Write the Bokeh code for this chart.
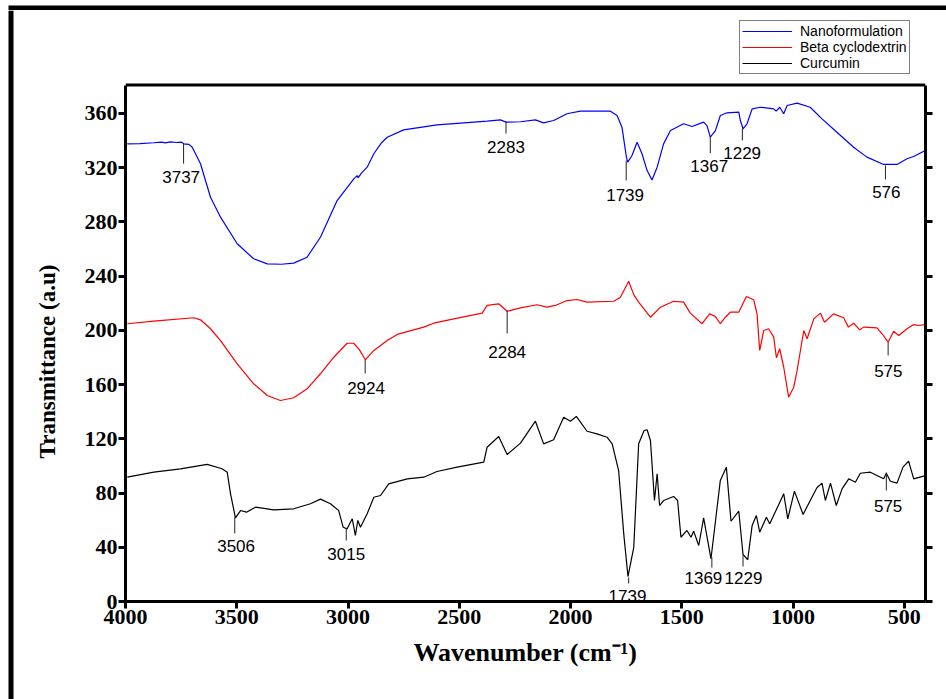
import math
from bokeh.plotting import figure
from bokeh.layouts import column, row
from bokeh.models import Range1d, FixedTicker, LinearAxis, Legend, LegendItem, Span, Label
from bokeh.core.properties import value
from bokeh.embed import file_html
from bokeh.resources import INLINE

# ---------------- data ----------------
nano_wn = [3992, 3935, 3873, 3840, 3820, 3798, 3770, 3750, 3738, 3715, 3700, 3663, 3618, 3573, 3498,
           3424, 3363, 3300, 3244, 3184, 3124, 3049, 2974, 2959, 2955, 2940, 2914, 2884, 2862, 2847,
           2824, 2750, 2600, 2375, 2315, 2290, 2225, 2158, 2121, 2076, 2016, 1956, 1821, 1791, 1769,
           1749, 1743, 1724, 1701, 1679, 1656, 1634, 1611, 1582, 1551, 1492, 1454, 1402, 1387, 1372,
           1349, 1327, 1297, 1244, 1237, 1225, 1207, 1184, 1147, 1087, 1076, 1060, 1042, 1027, 982,
           923, 870, 803, 728, 668, 593, 533, 488, 458, 406]
nano_t = [337.6, 337.8, 338.4, 338.9, 338.3, 339.0, 338.6, 338.9, 337.6, 337.2, 335.1, 322.9, 298.2, 283.5, 263.9,
          252.8, 249.1, 248.8, 249.6, 254.0, 268.7, 295.8, 311.8, 314.2, 312.5, 316.0, 320.4, 330.3, 335.6, 338.8,
          342.5, 347.9, 351.6, 354.3, 355.3, 353.6, 353.9, 355.3, 353.1, 354.8, 359.8, 361.7, 361.7, 358.5, 349.9,
          327.8, 324.1, 329.0, 338.8, 330.3, 317.9, 311.0, 320.4, 337.6, 347.4, 352.4, 350.4, 353.6, 351.1, 342.5,
          347.4, 358.5, 360.5, 361.0, 354.8, 348.7, 352.4, 363.4, 364.6, 363.4, 361.7, 364.6, 359.8, 365.9, 367.6,
          364.6, 356.0, 346.2, 335.1, 327.8, 322.4, 322.4, 326.6, 328.3, 332.7]

bcd_wn = [3992, 3873, 3693, 3663, 3618, 3573, 3498, 3424, 3363, 3304, 3244, 3184, 3124, 3064, 3004,
          2974, 2950, 2922, 2884, 2824, 2779, 2660, 2615, 2525, 2397, 2375, 2323, 2285, 2225, 2151,
          2106, 2068, 2016, 1971, 1926, 1806, 1776, 1739, 1715, 1694, 1641, 1596, 1537, 1492, 1462,
          1409, 1375, 1349, 1327, 1304, 1282, 1244, 1210, 1177, 1162, 1150, 1132, 1110, 1087, 1075,
          1060, 1042, 1020, 997, 982, 952, 937, 907, 877, 859, 818, 773, 751, 728, 701,
          683, 623, 600, 573, 548, 525, 488, 458, 436, 406]
bcd_t = [204.9, 206.8, 209.3, 207.8, 201.2, 192.5, 175.3, 160.6, 152.0, 148.3, 150.3, 156.9, 168.0, 180.2, 190.5,
         190.5, 186.0, 178.3, 185.2, 192.5, 197.0, 202.4, 205.3, 208.5, 212.7, 218.4, 219.6, 214.1, 216.6, 218.9,
         217.1, 218.4, 222.0, 222.8, 220.8, 221.5, 224.5, 236.3, 226.0, 220.8, 209.7, 217.1, 221.5, 220.8, 212.7,
         204.9, 212.2, 210.2, 204.9, 209.7, 213.4, 213.4, 225.0, 222.6, 212.2, 185.2, 199.9, 201.2, 195.0, 179.8,
         186.4, 172.8, 150.7, 158.1, 170.4, 199.9, 193.8, 208.5, 212.7, 206.0, 212.2, 209.3, 202.4, 205.3, 200.4,
         202.4, 201.9, 197.5, 191.3, 199.4, 196.2, 201.2, 204.3, 203.6, 204.3]

cur_wn = [3992, 3873, 3753, 3633, 3566, 3543, 3528, 3506, 3483, 3456, 3416, 3334, 3244, 3169, 3124,
          3079, 3042, 3022, 3004, 2981, 2967, 2956, 2944, 2914, 2884, 2854, 2817, 2734, 2660, 2600,
          2510, 2390, 2375, 2323, 2285, 2225, 2158, 2121, 2076, 2031, 2001, 1974, 1926, 1881, 1836,
          1813, 1784, 1761, 1742, 1716, 1694, 1670, 1656, 1641, 1623, 1611, 1600, 1582, 1537, 1519,
          1504, 1477, 1459, 1447, 1424, 1402, 1369, 1327, 1300, 1279, 1244, 1225, 1204, 1184, 1165,
          1150, 1120, 1105, 1042, 1024, 994, 955, 923, 893, 870, 855, 832, 806, 780, 750,
          720, 698, 653, 593, 581, 563, 533, 506, 481, 458, 406]
cur_t = [91.7, 95.4, 97.9, 101.1, 97.9, 95.4, 79.4, 61.7, 67.1, 65.9, 69.6, 67.6, 68.4, 72.1, 75.5,
         72.1, 67.1, 54.8, 53.6, 61.0, 48.7, 59.8, 54.8, 64.7, 76.9, 78.2, 86.8, 90.5, 91.7, 95.9,
         99.1, 102.8, 113.8, 121.7, 108.4, 116.8, 133.0, 116.3, 119.3, 136.0, 133.0, 136.5, 125.6, 123.7, 121.2,
         116.3, 96.6, 49.9, 18.4, 40.0, 116.3, 126.0, 126.7, 118.8, 74.5, 94.2, 70.8, 74.5, 77.5, 74.5,
         47.4, 52.4, 47.4, 51.9, 41.3, 61.7, 31.5, 89.3, 99.1, 59.2, 66.6, 34.7, 30.8, 56.1, 63.4,
         51.1, 62.2, 57.3, 79.4, 61.0, 81.4, 64.2, 74.5, 83.9, 87.3, 74.5, 87.3, 70.8, 83.1, 90.5,
         88.0, 94.6, 95.4, 90.5, 94.6, 88.7, 87.3, 99.1, 103.5, 90.5, 92.9]

series_names = ["Nanoformulation", "Beta cyclodextrin", "Curcumin"]
series_colors = ["#0000FF", "#FF0000", "#000000"]

# peak annotations
ann_text = ["3737", "2283", "1739", "1367", "1229", "576", "2924", "2284", "575",
            "3506", "3015", "1739", "1369", "1229", "575"]
ann_line_wn = [3739, 2290, 1750, 1372, 1228, 585, 2923, 2285, 573, 3509, 3008, 1739, 1365, 1225, 581]
ann_line_top = [337.9, 354.1, 325.3, 342.7, 348.9, 321.6, 178.5, 214.7, 191.1, 62.0, 53.9, 17.7, 32.5, 34.7, 95.2]
ann_line_bot = [323.0, 345.2, 310.6, 330.8, 340.1, 311.3, 168.2, 197.7, 181.5, 50.2, 45.0, 13.3, 25.0, 25.8, 81.9]
ann_text_wn = [3750, 2290, 1755, 1377, 1229, 581, 2919, 2285, 572, 3503, 3008, 1744, 1403, 1223, 573]
ann_text_base = [313.5, 335.1, 300.2, 320.9, 330.7, 301.9, 157.4, 183.7, 169.7, 41.3, 35.2, 4.4, 17.0, 17.0, 70.8]

x_start, x_end = 4000, 405
y_min, y_max = 0, 381
x_ticks = [4000, 3500, 3000, 2500, 2000, 1500, 1000, 500]
y_ticks = [0, 40, 80, 120, 160, 200, 240, 280, 320, 360]

x_title = "Wavenumber (cm\u207b\u00b9)"
y_title = "Transmittance (a.u)"

# ---------------- layout sizes (pixels) ----------------
TOP_H = 10           # strip holding the top black border
LEFT_W = 70          # strip holding the left border and the y title
MAIN_W = 866
MAIN_H = 689
FRAME_BOTTOM = 98
PX_PER_UNIT = 1.3556  # vertical pixels per transmittance unit
frame_h = MAIN_H - FRAME_BOTTOM
y_view_top = frame_h / PX_PER_UNIT


def no_align(f):
    if "frame_align" in f.properties():
        f.frame_align = False


def bare_figure(w, h, xr, yr):
    f = figure(width=w, height=h, x_range=xr, y_range=yr, output_backend="svg",
               toolbar_location=None, x_axis_location=None, y_axis_location=None,
               min_border=0, min_border_left=0, min_border_right=0,
               min_border_top=0, min_border_bottom=0)
    f.grid.visible = False
    f.outline_line_color = None
    f.background_fill_color = "white"
    f.border_fill_color = "white"
    no_align(f)
    return f


# top strip: thick black border line
top_fig = bare_figure(946, TOP_H, Range1d(0, 946), Range1d(TOP_H, 0))
top_fig.quad(left=[8], right=[946], top=[3], bottom=[9], fill_color="black", line_color=None)

# left strip: thick black border line and the y title
left_fig = bare_figure(LEFT_W, MAIN_H, Range1d(0, LEFT_W), Range1d(MAIN_H, 0))
left_fig.quad(left=[8], right=[13], top=[0], bottom=[MAIN_H], fill_color="black", line_color=None)
left_fig.add_layout(Label(x=47, y=351, text=y_title, angle=math.pi / 2,
                          text_align="center", text_baseline="middle",
                          text_font="Liberation Serif", text_font_style="bold",
                          text_font_size="23px", text_color="black"))

# main chart
p = figure(width=MAIN_W, height=MAIN_H, x_range=Range1d(x_start, x_end),
           y_range=Range1d(y_min, y_view_top),
           output_backend="svg", toolbar_location=None,
           min_border_left=125 - LEFT_W, min_border_right=11, min_border_top=0,
           min_border_bottom=FRAME_BOTTOM)
no_align(p)
p.xgrid.visible = False
p.ygrid.visible = False
p.outline_line_color = None
p.background_fill_color = "white"
p.border_fill_color = "white"

p.add_layout(LinearAxis(), "right")


def style_axis(ax, ticks, show_labels):
    ax.ticker = FixedTicker(ticks=ticks)
    ax.axis_line_width = 3
    ax.axis_line_color = "black"
    ax.major_tick_line_width = 3
    ax.major_tick_line_color = "black"
    ax.major_tick_out = 7
    ax.major_tick_in = 0
    ax.minor_tick_out = 0
    ax.minor_tick_in = 0
    ax.major_label_text_font = "Liberation Serif"
    ax.major_label_text_font_style = "bold"
    ax.major_label_text_font_size = "22px"
    ax.major_label_text_color = "black"
    ax.major_label_standoff = 1
    if not show_labels:
        ax.major_label_overrides = {t: "" for t in ticks}


for ax in p.below:
    style_axis(ax, x_ticks, True)
for ax in p.left:
    style_axis(ax, y_ticks, True)
    ax.bounds = (y_min, y_max)
for ax in p.right:
    style_axis(ax, y_ticks, False)
    ax.bounds = (y_min, y_max)

xa = p.below[0]
xa.axis_label = x_title
xa.axis_label_text_font = "Liberation Serif"
xa.axis_label_text_font_style = "bold"
xa.axis_label_text_font_size = "26px"
xa.axis_label_text_color = "black"
xa.axis_label_standoff = 11

# top frame line
p.add_layout(Span(location=y_max, dimension="width", line_color="black", line_width=3))

renderers = []
for wn, tt, col in [(nano_wn, nano_t, series_colors[0]),
                    (bcd_wn, bcd_t, series_colors[1]),
                    (cur_wn, cur_t, series_colors[2])]:
    r = p.line(wn, tt, line_color=col, line_width=1.2)
    renderers.append(r)

# peak markers
p.segment(x0=ann_line_wn, y0=ann_line_top, x1=ann_line_wn, y1=ann_line_bot,
          line_color="#222222", line_width=1)
p.text(x=ann_text_wn, y=ann_text_base, text=ann_text, text_align="center",
       text_baseline="alphabetic", text_font=value("Liberation Sans"), text_font_size="17px",
       text_color="black")

legend = Legend(items=[LegendItem(label=n, renderers=[r]) for n, r in zip(series_names, renderers)],
                location=(614, 527), orientation="vertical",
                border_line_color="black", border_line_width=1,
                background_fill_color="white", background_fill_alpha=1.0,
                label_text_font="Liberation Sans", label_text_font_size="14px",
                label_text_color="black", padding=2, spacing=0, margin=0,
                glyph_width=50, glyph_height=16, label_height=16, label_standoff=8)
p.add_layout(legend, "center")

page = column(top_fig, row(left_fig, p, spacing=0), spacing=0)

open("out.html", "w").write(file_html(page, INLINE))
